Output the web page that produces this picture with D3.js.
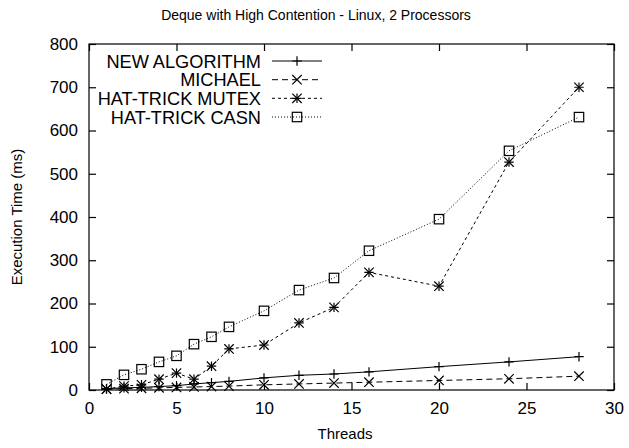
<!DOCTYPE html>
<html>
<head>
<meta charset="utf-8">
<script src="https://cdn.jsdelivr.net/npm/d3@7"></script>
<style>
  body { margin: 0; background: #fff; }
  svg { display: block; font-family: "Liberation Sans", Arial, sans-serif; }
</style>
</head>
<body>
<svg width="629" height="448"></svg>
<script>
// data
const threads   = [1, 2, 3, 4, 5, 6, 7, 8, 10, 12, 14, 16, 20, 24, 28];
const newAlgo   = [3, 5, 6, 8, 10, 14, 17, 20, 28, 34, 37, 42, 54, 65, 77];
const michael   = [2, 3, 4, 5, 6, 7, 8, 9, 12, 14, 16, 18, 22, 26, 32];
const htMutex   = [2, 9, 12, 25, 39, 25, 55, 95, 104, 155, 191, 272, 240, 527, 700];
const htCasn    = [13, 35, 48, 65, 79, 106, 123, 146, 183, 231, 259, 322, 395, 553, 631];
const xTicks    = [0, 5, 10, 15, 20, 25, 30];
const yTicks    = [0, 100, 200, 300, 400, 500, 600, 700, 800];
const seriesNames = ["NEW ALGORITHM", "MICHAEL", "HAT-TRICK MUTEX", "HAT-TRICK CASN"];

const series = [
  {name: seriesNames[0], values: newAlgo, dash: null,    mark: "plus"},
  {name: seriesNames[1], values: michael, dash: "6,4",   mark: "cross"},
  {name: seriesNames[2], values: htMutex, dash: "3,3",   mark: "star"},
  {name: seriesNames[3], values: htCasn,  dash: "1,2",   mark: "square"}
];

let svg = d3.select("svg");
let pLeft = 89, pRight = 614, pTop = 44, pBottom = 390;

let x = d3.scaleLinear().domain([0, 30]).range([pLeft, pRight]);
let y = d3.scaleLinear().domain([0, 800]).range([pBottom, pTop]);

//###############################################
// Frame + ticks
//###############################################
svg.append("rect")
  .attr("x", pLeft).attr("y", pTop)
  .attr("width", pRight - pLeft).attr("height", pBottom - pTop)
  .attr("fill", "none").attr("stroke", "#000").attr("stroke-width", 1.2);

let tickLen = 7;

svg.append("g")
  .attr("transform", `translate(0,${pBottom})`)
  .call(d3.axisBottom(x).tickValues(xTicks).tickSizeInner(-tickLen).tickSizeOuter(0).tickPadding(12))
  .call(g => g.select(".domain").remove());
svg.append("g")
  .attr("transform", `translate(0,${pTop})`)
  .call(d3.axisTop(x).tickValues(xTicks).tickSizeInner(-tickLen).tickSizeOuter(0).tickFormat(""))
  .call(g => g.select(".domain").remove());
svg.append("g")
  .attr("transform", `translate(${pLeft},0)`)
  .call(d3.axisLeft(y).tickValues(yTicks).tickSizeInner(-tickLen).tickSizeOuter(0).tickPadding(11))
  .call(g => g.select(".domain").remove());
svg.append("g")
  .attr("transform", `translate(${pRight},0)`)
  .call(d3.axisRight(y).tickValues(yTicks).tickSizeInner(-tickLen).tickSizeOuter(0).tickFormat(""))
  .call(g => g.select(".domain").remove());

svg.selectAll(".tick line").attr("stroke", "#000").attr("stroke-width", 1.2);
svg.selectAll(".tick text")
  .attr("fill", "#000")
  .style("font-size", "17px")
  .style("font-family", "Liberation Sans, Arial, sans-serif");

// titles
svg.append("text")
  .attr("x", 316).attr("y", 20)
  .attr("text-anchor", "middle")
  .style("font-size", "14px")
  .text("Deque with High Contention - Linux, 2 Processors");

svg.append("text")
  .attr("x", 345).attr("y", 439)
  .attr("text-anchor", "middle")
  .style("font-size", "15px")
  .text("Threads");

svg.append("text")
  .attr("transform", "translate(22,217) rotate(-90)")
  .attr("text-anchor", "middle")
  .style("font-size", "15px")
  .text("Execution Time (ms)");

//###############################################
// Markers
//###############################################
let drawMark = function(g, kind, cx, cy) {
  let s = 4.7;
  if (kind === "plus" || kind === "star") {
    g.append("path").attr("d", `M${cx - s},${cy}H${cx + s}M${cx},${cy - s}V${cy + s}`);
  }
  if (kind === "cross" || kind === "star") {
    g.append("path").attr("d", `M${cx - s},${cy - s}L${cx + s},${cy + s}M${cx - s},${cy + s}L${cx + s},${cy - s}`);
  }
  if (kind === "square") {
    g.append("rect").attr("x", cx - s).attr("y", cy - s).attr("width", 2 * s).attr("height", 2 * s)
      .attr("fill", "none");
  }
};

let line = d3.line().x((d, i) => x(threads[i])).y(d => y(d));

series.forEach(function(s) {
  let g = svg.append("g").attr("stroke", "#000").attr("fill", "none").attr("stroke-width", 1);
  g.append("path")
    .attr("d", line(s.values))
    .attr("stroke-dasharray", s.dash);
  let mg = g.append("g").attr("stroke-width", 1.2);
  s.values.forEach((v, i) => drawMark(mg, s.mark, x(threads[i]), y(v)));
});

//###############################################
// Legend
//###############################################
let legY = [61, 79.7, 98.3, 117];
series.forEach(function(s, i) {
  let ly = legY[i];
  svg.append("text")
    .attr("x", 261).attr("y", ly + 6.5)
    .attr("text-anchor", "end")
    .style("font-size", "18.2px")
    .text(s.name);
  let g = svg.append("g").attr("stroke", "#000").attr("fill", "none").attr("stroke-width", 1);
  g.append("path")
    .attr("d", `M272,${ly}H322`)
    .attr("stroke-dasharray", s.dash);
  drawMark(g.append("g").attr("stroke-width", 1.2), s.mark, 297, ly);
});
</script>
</body>
</html>
